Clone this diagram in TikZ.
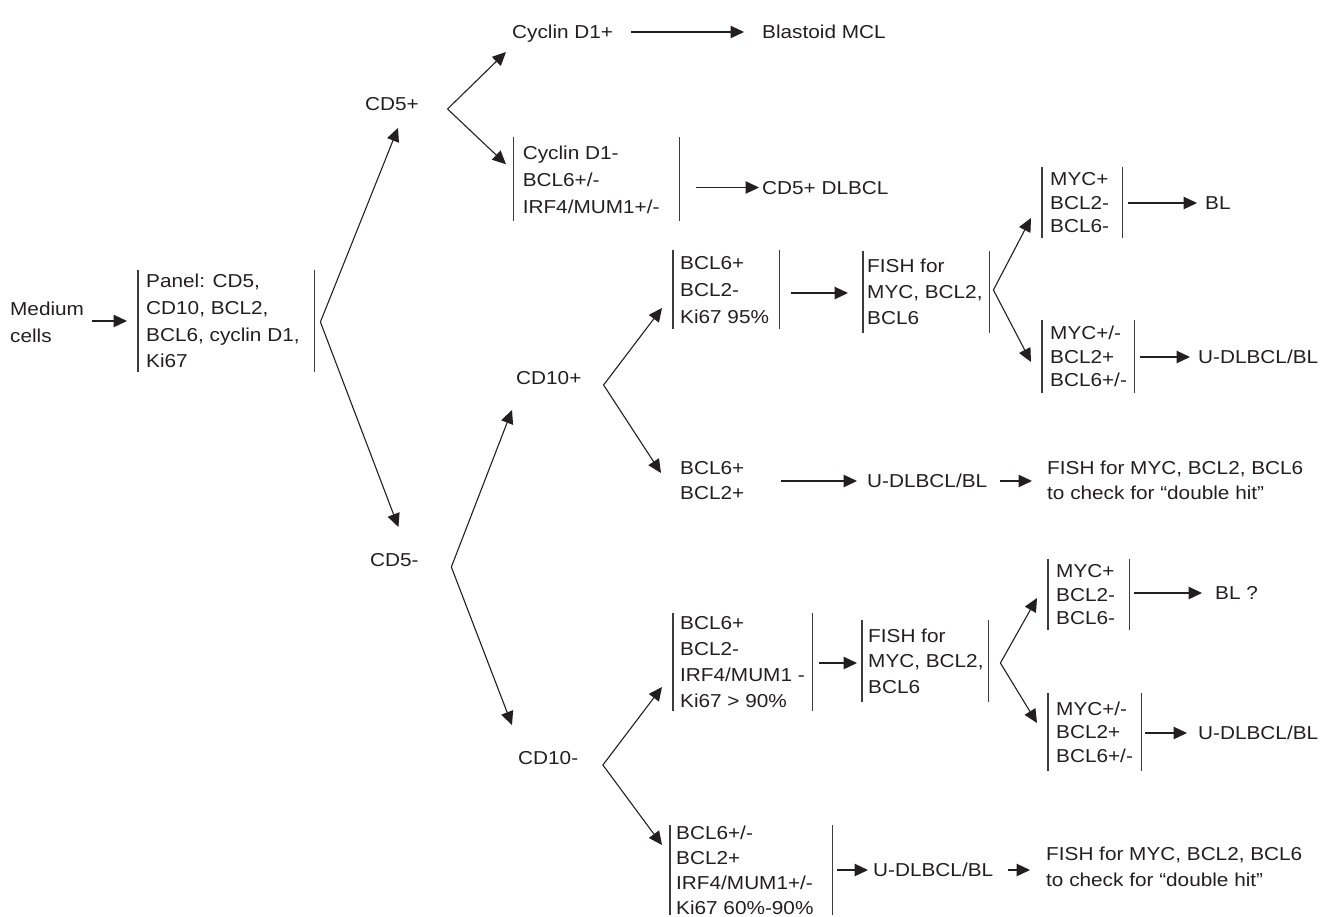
\documentclass[tikz,border=0pt]{standalone}
\usepackage{fontspec}
\setmainfont{Liberation Sans}[FakeStretch=1.11]
\usetikzlibrary{arrows.meta,calc}
\definecolor{ink}{RGB}{35,31,32}
\definecolor{barc}{RGB}{60,60,60}
\newcommand\mltext[2]{%
  \setbox0=\vbox{\baselineskip=#1pt\lineskiplimit=-\maxdimen\halign{##\hfil\cr#2\crcr}}\dp0=0pt \box0}
\newcommand\btext[4]{\makebox[#2pt][l]{\hspace*{#1pt}\mltext{#3}{#4}}}
\begin{document}
\begin{tikzpicture}[x=1pt,y=-1pt,
  >={Triangle[length=13.5pt,width=12.5pt]},
  every node/.style={font=\fontsize{18.7}{26.7}\selectfont},
  txt/.style={inner sep=0pt, anchor=west, text=ink},
  one/.style={txt, text height=13.4pt, text depth=0pt},
  bar/.style={draw=barc, line width=1.3pt},
  brk/.style={txt, minimum height=#1pt,
    append after command={(\tikzlastnode.north west) edge[bar] (\tikzlastnode.south west)
      (\tikzlastnode.north east) edge[bar] (\tikzlastnode.south east)}},
  arr/.style={->, draw=ink, line width=1.1pt},
  arr2/.style={<->, draw=ink, line width=1.1pt, line join=miter}]
\useasboundingbox (0,0) rectangle (1322,916);

% nodes
\node[txt] (medium) at (10,322) {\mltext{26.7}{Medium\cr cells}};
\node[brk=102] (panel) at (138,321) {\btext{8}{176}{26.7}{Panel: CD5,\cr CD10, BCL2,\cr BCL6, cyclin D1,\cr Ki67}};
\node[one] (cd5p) at (365,104) {CD5+};
\node[one] (cd5m) at (370,560) {CD5-};
\node[one] (cyc) at (512,32) {Cyclin D1+};
\node[one] (blast) at (762,32) {Blastoid MCL};
\node[brk=83.5] (b5) at (513.6,179.3) {\btext{9}{165.4}{27}{Cyclin D1-\cr BCL6+/-\cr IRF4/MUM1+/-}};
\node[one] (dl5) at (762,187.5) {CD5+ DLBCL};
\node[one] (cdtp) at (516,378) {CD10+};
\node[one] (cdtm) at (518,758) {CD10-};
\node[brk=79] (bA) at (673,289.5) {\btext{7}{106}{27}{BCL6+\cr BCL2-\cr Ki67 95\%}};
\node[brk=82] (fA) at (863,292) {\btext{4}{126}{26}{FISH for\cr MYC, BCL2,\cr BCL6}};
\node[brk=71] (mA1) at (1042,202.5) {\btext{8}{80}{23.5}{MYC+\cr BCL2-\cr BCL6-}};
\node[one] (blA) at (1205,203) {BL};
\node[brk=73] (mA2) at (1042,356.5) {\btext{8}{92}{23.5}{MYC+/-\cr BCL2+\cr BCL6+/-}};
\node[one] (uA) at (1198,357) {U-DLBCL/BL};
\node[txt] (bB) at (680,480.5) {\mltext{25}{BCL6+\cr BCL2+}};
\node[one] (uB) at (867,481) {U-DLBCL/BL};
\node[txt] (fB) at (1047,480.5) {\mltext{25}{FISH for MYC, BCL2, BCL6\cr to check for “double hit”}};
\node[brk=98] (bC) at (673,662) {\btext{7}{139}{25.7}{BCL6+\cr BCL2-\cr IRF4/MUM1 -\cr Ki67 > 90\%}};
\node[brk=82] (fC) at (862,661) {\btext{6}{126}{25.5}{FISH for\cr MYC, BCL2,\cr BCL6}};
\node[brk=71] (mC1) at (1048,594.5) {\btext{8}{81}{23.5}{MYC+\cr BCL2-\cr BCL6-}};
\node[one] (blC) at (1215,593) {BL ?};
\node[brk=78] (mC2) at (1048,732) {\btext{8}{93}{23.5}{MYC+/-\cr BCL2+\cr BCL6+/-}};
\node[one] (uC) at (1198,733) {U-DLBCL/BL};
\node[brk=90] (bD) at (670,870) {\btext{6}{162}{25}{BCL6+/-\cr BCL2+\cr IRF4/MUM1+/-\cr Ki67 60\%-90\%}};
\node[one] (uD) at (873,870) {U-DLBCL/BL};
\node[txt] (fD) at (1046,867) {\mltext{26}{FISH for MYC, BCL2, BCL6\cr to check for “double hit”}};

% connectors
\draw[arr] ($(medium.east |- panel.west)+(8,0)$) -- ($(panel.west)+(-11,0)$);
\draw[arr2] ($(cd5p.south)+(6,17)$) -- ($(panel.east)+(6,1)$) -- ($(cd5m.north)+(4,-26)$);
\draw[arr2] ($(cyc.west)+(-6,20)$) -- ($(cd5p.east)+(28.5,5)$) -- ($(b5.west)+(-7.6,-15)$);
\draw[arr] ($(cyc.east)+(18,0)$) -- ($(blast.west)+(-18,0)$);
\draw[arr] ($(b5.east |- dl5.west)+(17,0)$) -- ($(dl5.west)+(-3,0)$);
\draw[arr2] ($(cdtp.west)+(-4,32)$) -- ($(cd5m.east)+(32.5,7)$) -- ($(cdtm.west)+(-6,-33)$);
\draw[arr2] ($(bA.west)+(-11,18.5)$) -- ($(cdtp.east)+(22,7)$) -- ($(bB.west)+(-19,-7.5)$);
\draw[arr] ($(bA.east |- fA.west)+(12,1)$) -- ($(fA.west)+(-15,1)$);
\draw[arr2] ($(mA1.west)+(-11,15.5)$) -- ($(fA.east)+(4,-2)$) -- ($(mA2.west)+(-11,5.5)$);
\draw[arr] ($(mA1.east |- blA.west)+(6,0)$) -- ($(blA.west)+(-8,0)$);
\draw[arr] ($(mA2.east |- uA.west)+(6,0)$) -- ($(uA.west)+(-8,0)$);
\draw[arr] ($(bB.east |- uB.west)+(37,0)$) -- ($(uB.west)+(-10,0)$);
\draw[arr] ($(uB.east)+(13,0)$) -- ($(fB.west |- uB.east)+(-15,0)$);
\draw[arr2] ($(bC.west)+(-11,25)$) -- ($(cdtm.east)+(24.5,7)$) -- ($(bD.west)+(-8,-25)$);
\draw[arr] ($(bC.east |- fC.west)+(7,2)$) -- ($(fC.west)+(-5,2)$);
\draw[arr2] ($(mC1.west)+(-11,3.5)$) -- ($(fC.east)+(12,2)$) -- ($(mC2.west)+(-11,-9)$);
\draw[arr] ($(mC1.east |- blC.west)+(5,0)$) -- ($(blC.west)+(-13,0)$);
\draw[arr] ($(mC2.east |- uC.west)+(4,0)$) -- ($(uC.west)+(-11,0)$);
\draw[arr] ($(bD.east |- uD.west)+(5,0)$) -- ($(uD.west)+(-5,0)$);
\draw[arr] ($(uD.east)+(15,0)$) -- ($(fD.west |- uD.east)+(-16,0)$);
\end{tikzpicture}
\end{document}
